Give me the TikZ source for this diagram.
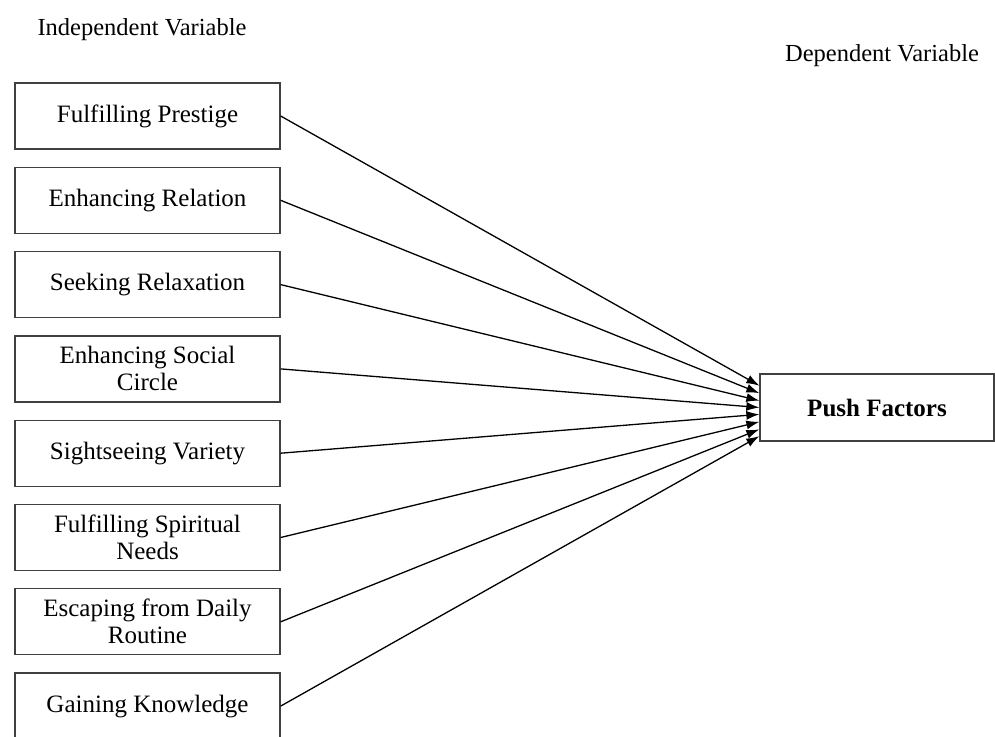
\documentclass[tikz,border=0pt]{standalone}
\usepackage{fontspec}
\setmainfont{Liberation Serif}
\usetikzlibrary{arrows.meta,positioning,calc}
\tikzset{
  ivbox/.style={rectangle, draw=black!75, line width=1.3pt, align=center,
                font=\fontsize{25}{27}\selectfont, minimum width=265pt,
                minimum height=66pt, inner sep=2pt, fill=white},
  dvbox/.style={rectangle, draw=black!75, line width=1.3pt, align=center,
                font=\fontsize{25}{27}\selectfont\bfseries, minimum width=234pt,
                minimum height=67pt, fill=white},
  head/.style={font=\fontsize{24.5}{26}\selectfont},
  arrow/.style={-{Latex[length=13pt,width=9pt]}, line width=1.3pt}
}
\begin{document}
\begin{tikzpicture}[x=1pt, y=-1pt, node distance=17pt]
  \useasboundingbox (0,0) rectangle (995,736);
  \node[head] (ivlbl) at (142,30) {Independent Variable};
  \node[head] (dvlbl) at (882,56) {Dependent Variable};
  % independent variables
  \node[ivbox] (prestige) at (147.5,116) {Fulfilling Prestige};
  \node[ivbox, below=of prestige] (relation) {Enhancing Relation};
  \node[ivbox, below=of relation] (relax) {Seeking Relaxation};
  \node[ivbox, below=of relax] (social) {Enhancing Social\\Circle};
  \node[ivbox, below=of social] (sight) {Sightseeing Variety};
  \node[ivbox, below=of sight] (spirit) {Fulfilling Spiritual\\Needs};
  \node[ivbox, below=of spirit] (escape) {Escaping from Daily\\Routine};
  \node[ivbox, below=of escape] (knowledge) {Gaining Knowledge};
  % dependent variable
  \node[dvbox] (push) at (877,407.5) {Push Factors};
  \coordinate (t1) at ($(push.north west)!0.18!(push.south west)$);
  \coordinate (t2) at ($(push.north west)!0.29!(push.south west)$);
  \coordinate (t3) at ($(push.north west)!0.40!(push.south west)$);
  \coordinate (t4) at ($(push.north west)!0.50!(push.south west)$);
  \coordinate (t5) at ($(push.north west)!0.60!(push.south west)$);
  \coordinate (t6) at ($(push.north west)!0.71!(push.south west)$);
  \coordinate (t7) at ($(push.north west)!0.82!(push.south west)$);
  \coordinate (t8) at ($(push.north west)!0.92!(push.south west)$);
  \draw[arrow] (prestige.east) -- (t1);
  \draw[arrow] (relation.east) -- (t2);
  \draw[arrow] (relax.east) -- (t3);
  \draw[arrow] (social.east) -- (t4);
  \draw[arrow] (sight.east) -- (t5);
  \draw[arrow] (spirit.east) -- (t6);
  \draw[arrow] (escape.east) -- (t7);
  \draw[arrow] (knowledge.east) -- (t8);
\end{tikzpicture}
\end{document}
